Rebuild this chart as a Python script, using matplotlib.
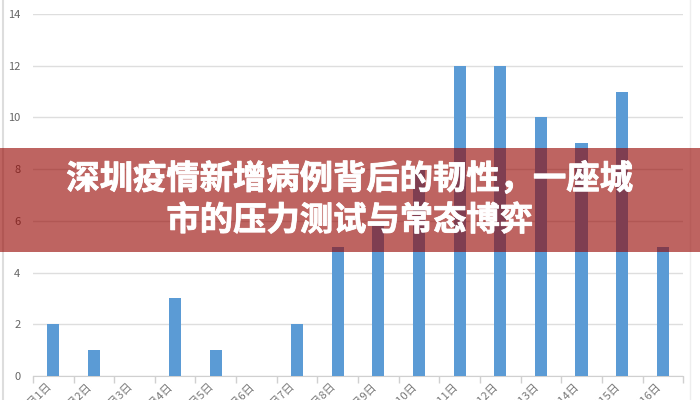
import numpy as np
import matplotlib
matplotlib.use("Agg")
import matplotlib.pyplot as plt
import matplotlib.patheffects as pe
from matplotlib.patches import Rectangle
from matplotlib.lines import Line2D

plt.rcParams['font.family'] = ['Noto Sans CJK SC', 'DejaVu Sans']

# daily new cases
dates = ['2月1日', '2月2日', '2月3日', '2月4日', '2月5日', '2月6日', '2月7日', '2月8日',
         '2月9日', '2月10日', '2月11日', '2月12日', '2月13日', '2月14日', '2月15日', '2月16日']
cases = [2, 1, 0, 3, 1, 0, 2, 5, 6, 8, 12, 12, 10, 9, 11, 5]
y_ticks = [0, 2, 4, 6, 8, 10, 12, 14]
title = '深圳疫情新增病例背后的韧性，一座城\n市的压力测试与常态博弈'

fig = plt.figure(figsize=(7, 4), dpi=100)
ax = fig.add_axes([0.047, 0.06, 0.929, 0.905])

x = np.arange(len(cases))
ax.bar(x, cases, width=0.3, color='#5b9bd5', zorder=3)

ax.set_xlim(-0.5, len(cases) - 0.5)
ax.set_ylim(0, 14)
ax.set_yticks(y_ticks)
ax.yaxis.grid(True, color='#dedede', lw=1)
ax.set_axisbelow(True)
ax.tick_params(axis='y', length=0, labelsize=8, labelcolor='#666666', pad=9)

# labels under the bars, ticks on the boundaries
ax.set_xticks(x)
ax.set_xticklabels(dates, rotation=45, ha='right', fontsize=8, color='#777777')
ax.tick_params(axis='x', which='major', length=0, pad=4)
ax.set_xticks(np.arange(len(cases) + 1) - 0.5, minor=True)
ax.tick_params(axis='x', which='minor', length=5, color='#d0d0d0', width=1)

for s in ['top', 'right', 'left']:
    ax.spines[s].set_visible(False)
ax.spines['bottom'].set_color('#d0d0d0')

# screenshot frame lines
fig.add_artist(Line2D([0.004, 0.004], [0, 1], color='#dddddd', lw=1.5))
fig.add_artist(Line2D([0.986, 0.986], [0, 1], color='#eeeeee', lw=1))

# red banner with title
fig.add_artist(Rectangle((0, 0.37), 1, 0.26, transform=fig.transFigure,
                         facecolor=(150/255, 5/255, 0), alpha=0.62, edgecolor='none', zorder=10))
fig.text(0.5, 0.5, title, ha='center', va='center', color='white', fontsize=24,
         fontweight='black', linespacing=1.32, zorder=11,
         path_effects=[pe.withStroke(linewidth=0.6, foreground='white')])

fig.savefig('out.png', dpi=100)
